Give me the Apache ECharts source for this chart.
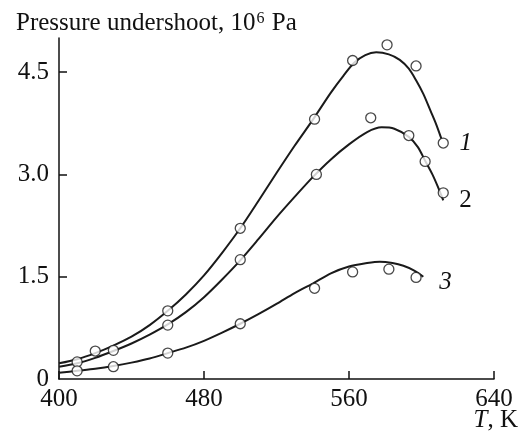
<!DOCTYPE html>
<html><head><meta charset="utf-8">
<script src="https://cdn.jsdelivr.net/npm/echarts@6/dist/echarts.min.js"></script>
<style>html,body{margin:0;padding:0;background:#fff}#c{width:525px;height:440px}</style>
</head><body><div id="c"></div>
<script>
// Tick values / labels
const xTicks = [400, 480, 560, 640];
const yTicks = [0, 1.5, 3.0, 4.5];
const yTickLabels = ['0', '1.5', '3.0', '4.5'];
const seriesNames = ['1', '2', '3'];

// Fitted curves (T, value)
const curve1 = [[400,0.23],[410,0.29],[420,0.38],[430,0.49],[440,0.62],[450,0.79],[460,1.00],[470,1.24],[480,1.52],[490,1.85],[500,2.21],[510,2.61],[520,3.02],[530,3.42],[540,3.80],[550,4.20],[557,4.45],[563,4.64],[569,4.75],[575,4.79],[582,4.76],[588,4.68],[593,4.55],[597,4.38],[601,4.18],[605,3.93],[608,3.74],[611,3.52]];
const curve2 = [[400,0.18],[410,0.23],[420,0.31],[430,0.41],[440,0.52],[450,0.65],[460,0.80],[470,0.98],[480,1.20],[490,1.46],[500,1.74],[510,2.05],[520,2.37],[530,2.67],[540,2.96],[550,3.22],[560,3.44],[570,3.62],[578,3.69],[585,3.67],[593,3.55],[598,3.40],[602,3.20],[606,3.00],[609,2.82],[612,2.62]];
const curve3 = [[400,0.09],[410,0.12],[420,0.15],[430,0.19],[440,0.24],[450,0.30],[460,0.38],[470,0.46],[480,0.56],[490,0.68],[500,0.81],[510,0.95],[520,1.10],[530,1.26],[540,1.40],[550,1.55],[560,1.65],[570,1.70],[577,1.72],[584,1.70],[590,1.66],[596,1.59],[601,1.50]];

// Measured points
const points1 = [[410,0.25],[420,0.41],[460,1.00],[500,2.21],[541,3.81],[562,4.67],[581,4.90],[597,4.59],[612,3.46]];
const points2 = [[430,0.42],[460,0.79],[500,1.75],[542,3.00],[572,3.83],[593,3.57],[602,3.19],[612,2.73]];
const points3 = [[410,0.12],[430,0.18],[460,0.38],[500,0.81],[541,1.33],[562,1.57],[582,1.61],[597,1.49]];

const FONT = 'Liberation Serif';
const INK = '#111';
const chart = echarts.init(document.getElementById('c'), null, {renderer: 'canvas'});

function lineSeries(data, name, offset, italic) {
  return {
    type: 'line', data: data, smooth: 0.3, showSymbol: false, symbol: 'none',
    lineStyle: {color: '#1a1a1a', width: 2}, z: 2, silent: true,
    endLabel: {show: true, formatter: name, fontFamily: FONT, fontSize: 25,
      fontStyle: italic ? 'italic' : 'normal', color: INK, offset: offset}
  };
}
function pointSeries(data) {
  return {
    type: 'scatter', data: data, symbol: 'circle', symbolSize: 10, z: 3, silent: true,
    itemStyle: {color: '#fff', borderColor: '#1a1a1a', borderWidth: 1.3}
  };
}

chart.setOption({
  animation: false,
  backgroundColor: '#fff',
  title: {
    text: 'Pressure undershoot, 10{sup|6} Pa',
    left: 11, top: 6,
    textStyle: {fontFamily: FONT, fontSize: 25, fontWeight: 'normal', color: INK,
      rich: {sup: {fontFamily: FONT, fontSize: 16, color: INK, verticalAlign: 'top', padding: [0, 1, 0, 1]}}}
  },
  grid: {left: 59, right: 31, top: 38, bottom: 61, containLabel: false},
  xAxis: {
    type: 'value', min: 400, max: 640, interval: 80,
    axisLine: {show: true, lineStyle: {color: INK, width: 1.5}},
    axisTick: {show: true, inside: true, length: 8, customValues: xTicks, lineStyle: {color: INK, width: 1.5}},
    axisLabel: {customValues: xTicks, fontFamily: FONT, fontSize: 25, color: INK, margin: 8},
    splitLine: {show: false}
  },
  yAxis: {
    type: 'value', min: 0, max: 5, interval: 1.5,
    axisLine: {show: true, lineStyle: {color: INK, width: 1.5}},
    axisTick: {show: true, inside: true, length: 8, customValues: yTicks.slice(1), lineStyle: {color: INK, width: 1.5}},
    axisLabel: {customValues: yTicks, fontFamily: FONT, fontSize: 25, color: INK, margin: 10,
      formatter: function (v) { const i = yTicks.indexOf(v); return i >= 0 ? yTickLabels[i] : ''; }},
    splitLine: {show: false}
  },
  graphic: [{
    type: 'text', right: 7, top: 408,
    style: {text: '{i|T}, K', fontFamily: FONT, fontSize: 25, fill: INK,
      rich: {i: {fontFamily: FONT, fontSize: 25, fontStyle: 'italic', color: INK}}}
  }],
  series: [
    lineSeries(curve1, seriesNames[0], [10, 4], true),
    lineSeries(curve2, seriesNames[1], [8, 0], false),
    lineSeries(curve3, seriesNames[2], [8, 6], true),
    pointSeries(points1), pointSeries(points2), pointSeries(points3)
  ]
});
</script></body></html>
